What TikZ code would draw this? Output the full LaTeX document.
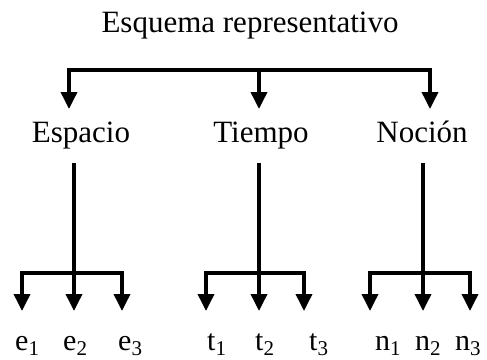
\documentclass[tikz,border=0pt]{standalone}
\usepackage{fontspec}
\setmainfont{Liberation Serif}
\usetikzlibrary{arrows.meta}
\begin{document}
\begin{tikzpicture}[x=1pt,y=-1pt,
  lbl/.style={anchor=base,inner sep=0pt,font=\fontsize{31}{36}\selectfont},
  sub/.style={anchor=base west,inner sep=0pt,font=\fontsize{30}{36}\selectfont},
  ln/.style={line width=3.6pt,line join=miter},
  tip/.style={-{Triangle[width=16pt,length=17pt]}},
  tips/.style={{Triangle[width=16pt,length=17pt]}-{Triangle[width=16pt,length=17pt]}}]
\useasboundingbox (0,0) rectangle (487,359);
\node[lbl] (title) at (250,32) {Esquema representativo};
\node[lbl] (esp) at (81,142) {Espacio};
\node[lbl] (tie) at (261,142) {Tiempo};
\node[lbl] (noc) at (422,142) {Noción};
% top bracket
\coordinate (a1) at (69,109); \coordinate (a1t) at (69,70);
\coordinate (a2) at (259,109); \coordinate (a2t) at (259,70);
\coordinate (a3) at (430,109); \coordinate (a3t) at (430,70);
\draw[ln,tips] (a1) -- (a1t) -- (a3t) -- (a3);
\draw[ln,tip] (a2t) -- (a2);
% groups
\foreach \g/\xl/\xm/\xr/\ch/\pl/\pm/\pr in {e/22/74/122/e/15/63/118, t/206/259/304/t/207/255/309, n/370/423/470/n/375/415/455}{
  \coordinate (\g s) at (\xm,163);
  \coordinate (\g m) at (\xm,273);
  \coordinate (\g l) at (\xl,273);
  \coordinate (\g r) at (\xr,273);
  \coordinate (\g la) at (\xl,311);
  \coordinate (\g ma) at (\xm,311);
  \coordinate (\g ra) at (\xr,311);
  \draw[ln] (\g s) -- (\g m);
  \draw[ln,tips] (\g la) -- (\g l) -- (\g r) -- (\g ra);
  \draw[ln,tip] (\g m) -- (\g ma);
  \node[sub] (\g1) at (\pl,350) {\ch\textsubscript{1}};
  \node[sub] (\g2) at (\pm,350) {\ch\textsubscript{2}};
  \node[sub] (\g3) at (\pr,350) {\ch\textsubscript{3}};
}
\end{tikzpicture}
\end{document}
